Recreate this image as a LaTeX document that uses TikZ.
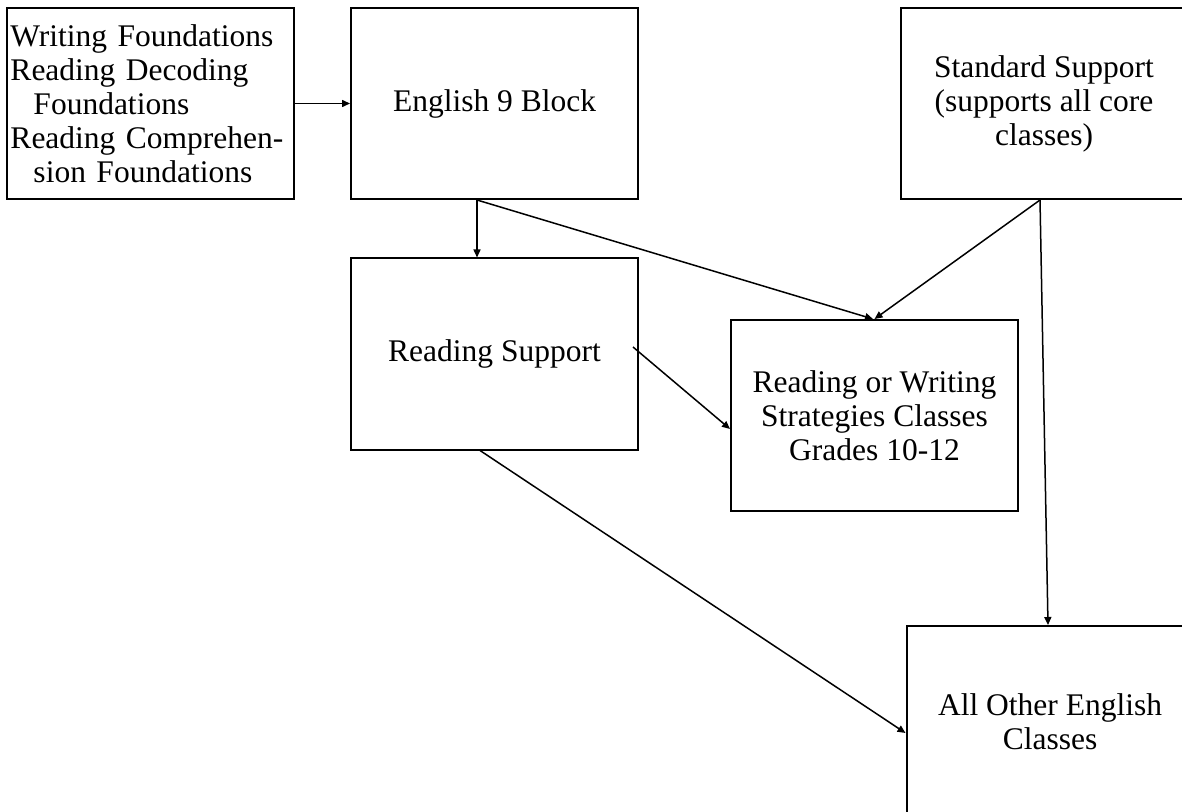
\documentclass[tikz,border=0pt]{standalone}
\usepackage{fontspec}
\setmainfont{Liberation Serif}
\usetikzlibrary{arrows.meta,calc}
\begin{document}
\begin{tikzpicture}[x=0.5pt,y=-0.5pt,
  box/.style={draw,line width=1pt,minimum width=143.5pt,minimum height=95.5pt,inner sep=1.5pt,align=center,font=\fontsize{15.75pt}{17pt}\selectfont},
  conn/.style={line width=0.75pt,-{Triangle[length=4pt,width=3.5pt]}}]
\clip (0,0) rectangle (1182,812);
\useasboundingbox (0,0) rectangle (1182,812);
\node[box,align=left,text width=140pt] (A) at (150.5,103.5) {Writing Foundations\\Reading Decoding\\\hspace*{11.5pt}Foundations\\Reading Comprehen-\\\hspace*{11.5pt}sion Foundations};
\node[box] (B) at (494.5,103.5) {English 9 Block};
\node[box] (C) at (1044,103.5) {Standard Support\\(supports all core\\classes)};
\node[box] (D) at (494.5,354) {Reading Support};
\node[box] (E) at (874.5,415.5) {Reading or Writing\\Strategies Classes\\Grades 10-12};
\node[box] (F) at (1050,721.5) {All Other English\\Classes};
\draw[conn] (A.east) -- (B.west);
\draw[conn] ($(B.south)+(-17.5,0)$) -- ($(D.north)+(-17.5,0)$);
\draw[conn] ($(B.south)+(-17.5,0)$) -- ($(E.north)+(-1.5,0)$);
\draw[conn] ($(C.south)+(-4,0)$) -- (E.north);
\draw[conn] ($(C.south)+(-4,0)$) -- ($(F.north)+(-2,0)$);
\draw[conn] ($(D.east)+(-6,-7)$) -- ($(E.west)+(0,13.5)$);
\draw[conn] ($(D.south)+(-14.5,0)$) -- ($(F.west)+(0,11.5)$);
\end{tikzpicture}
\end{document}
